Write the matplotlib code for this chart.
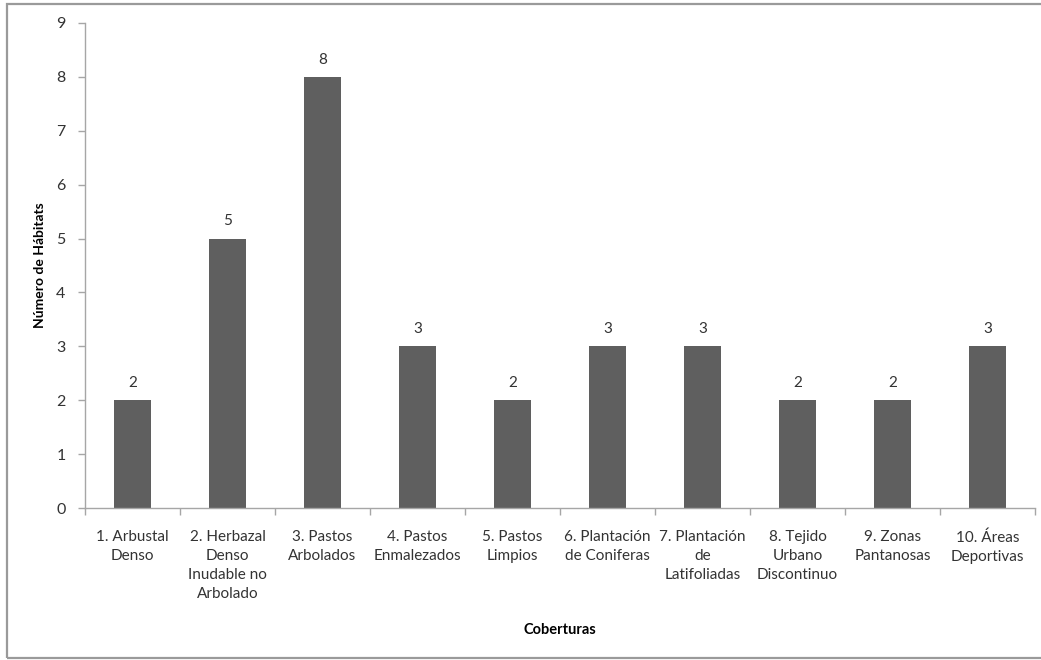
import matplotlib
matplotlib.use("Agg")
import matplotlib.pyplot as plt
from matplotlib.patches import Rectangle
from matplotlib.ticker import FixedLocator, NullFormatter

categories = [
    "1. Arbustal\nDenso",
    "2. Herbazal\nDenso\nInudable no\nArbolado",
    "3. Pastos\nArbolados",
    "4. Pastos\nEnmalezados",
    "5. Pastos\nLimpios",
    "6. Plantación\nde Coniferas",
    "7. Plantación\nde\nLatifoliadas",
    "8. Tejido\nUrbano\nDiscontinuo",
    "9. Zonas\nPantanosas",
    "10. Áreas\nDeportivas",
]
habitats = [2, 5, 8, 3, 2, 3, 3, 2, 2, 3]
y_ticks = list(range(0, 10))

plt.rcParams["font.family"] = ["Lato", "DejaVu Sans"]

W, H = 1041, 660
fig = plt.figure(figsize=(W / 100, H / 100), dpi=100)
fig.patch.set_facecolor("white")

# Chart-area frame (open on the right side)
frame = Rectangle((7 / W, 1 - 658 / H), 1.2, (658 - 4) / H,
                  transform=fig.transFigure, fill=False,
                  edgecolor="#9a9a9a", linewidth=1.6)
fig.patches.append(frame)

ax = fig.add_axes([85 / W, 1 - 508 / H, (1035 - 85) / W, (508 - 23) / H])
x = list(range(len(categories)))
bars = ax.bar(x, habitats, width=0.39, color="#5f5f5f", zorder=2)

for xi, v in zip(x, habitats):
    ax.annotate(str(v), (xi, v), xytext=(0, 12.5), textcoords="offset points",
                ha="center", va="center", fontsize=11, color="#333333")

ax.set_xlim(-0.5, len(categories) - 0.5)
ax.set_ylim(0, 9)
ax.set_yticks(y_ticks)
ax.set_yticklabels([str(t) for t in y_ticks], fontsize=11.5, color="#333333")

ax.set_xticks(x)
ax.set_xticklabels(categories, fontsize=11, color="#333333", linespacing=1.45)
ax.tick_params(axis="x", which="major", length=0, pad=16)
ax.xaxis.set_minor_locator(FixedLocator([i - 0.5 for i in range(len(categories) + 1)]))
ax.xaxis.set_minor_formatter(NullFormatter())
ax.tick_params(axis="x", which="minor", length=5, color="#a6a6a6", width=1)
ax.tick_params(axis="y", length=5, color="#a6a6a6", width=1, pad=9)

for side in ["top", "right"]:
    ax.spines[side].set_visible(False)
for side in ["left", "bottom"]:
    ax.spines[side].set_color("#a6a6a6")
    ax.spines[side].set_linewidth(1)

ax.set_ylabel("Número de Hábitats", fontsize=10, fontweight="bold")
ax.yaxis.set_label_coords(-39 / (1035 - 85), 0.5)
fig.text(560 / W, 1 - 630 / H, "Coberturas", ha="center", va="center",
         fontsize=10.5, fontweight="bold")

fig.savefig("out.png", dpi=100)
